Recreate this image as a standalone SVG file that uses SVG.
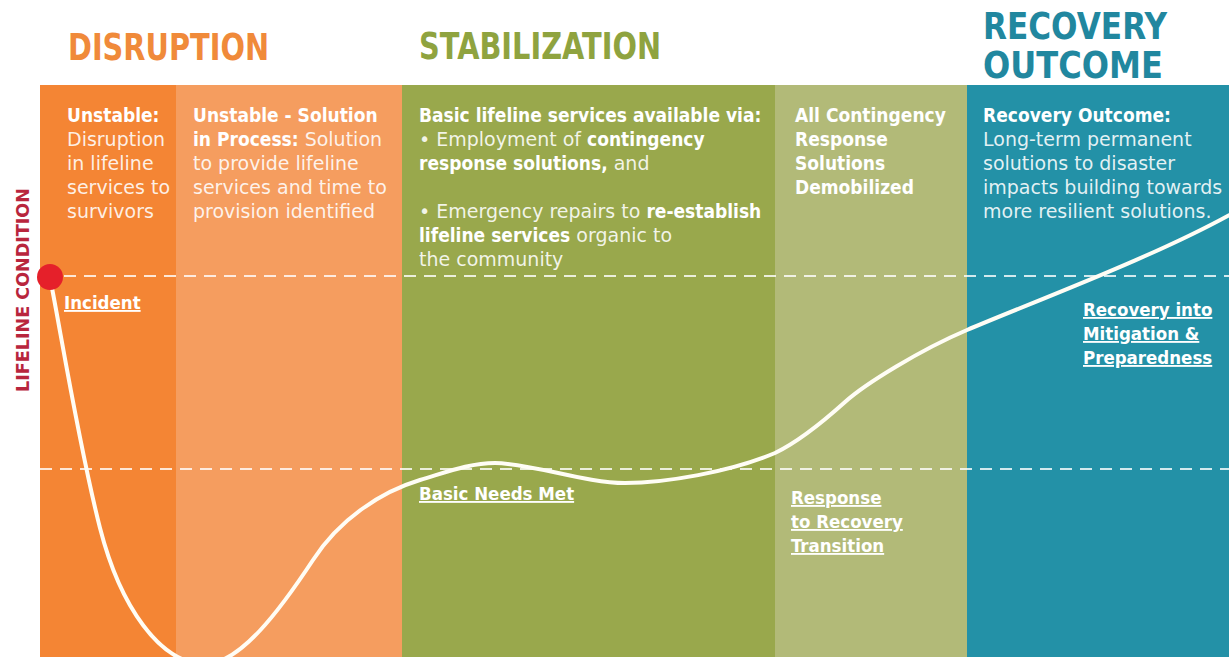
<svg xmlns="http://www.w3.org/2000/svg" width="1229" height="657" viewBox="0 0 1229 657">
<style>
.hdr{font-family:"DejaVu Sans","Liberation Sans",sans-serif;font-weight:bold;font-size:37px}
.body{font-family:"DejaVu Sans","Liberation Sans",sans-serif;font-size:19px;fill:#ffffff;fill-opacity:0.88}
.b{font-family:"DejaVu Sans Condensed","DejaVu Sans","Liberation Sans",sans-serif;font-weight:bold;fill:#ffffff;fill-opacity:1}
.lbl{font-family:"DejaVu Sans Condensed","DejaVu Sans","Liberation Sans",sans-serif;font-weight:bold;font-size:18.5px;fill:#ffffff;text-decoration:underline}
.dash{stroke:#ffffff;stroke-opacity:0.8;stroke-width:2;stroke-dasharray:12 8;fill:none}
</style>
<rect width="1229" height="657" fill="#ffffff"/>
<g id="headers">
<text class="hdr" x="68" y="60" fill="#F08A3A" textLength="201" lengthAdjust="spacingAndGlyphs">DISRUPTION</text>
<text class="hdr" x="419" y="59" fill="#8FA33F" textLength="242" lengthAdjust="spacingAndGlyphs">STABILIZATION</text>
<text class="hdr" x="983" y="39" fill="#21879F" font-size="35" textLength="184" lengthAdjust="spacingAndGlyphs">RECOVERY</text>
<text class="hdr" x="983" y="78" fill="#21879F" font-size="35" textLength="180" lengthAdjust="spacingAndGlyphs">OUTCOME</text>
</g>
<g id="axis-label">
<text transform="translate(29,290) rotate(-90)" text-anchor="middle" font-family="DejaVu Sans,Liberation Sans,sans-serif" font-weight="bold" font-size="17" fill="#B8253D" textLength="204" lengthAdjust="spacingAndGlyphs">LIFELINE CONDITION</text>
</g>
<g id="col-unstable">
<rect x="40" y="85" width="136" height="572" fill="#F48534"/>
<text class="body" x="67" y="122"><tspan class="b">Unstable:</tspan></text>
<text class="body" x="67" y="146">Disruption</text>
<text class="body" x="67" y="170">in lifeline</text>
<text class="body" x="67" y="194">services to</text>
<text class="body" x="67" y="218">survivors</text>
</g>
<g id="col-unstable-solution">
<rect x="176" y="85" width="226" height="572" fill="#F59D5F"/>
<text class="body" x="193" y="122"><tspan class="b">Unstable - Solution</tspan></text>
<text class="body" x="193" y="146"><tspan class="b">in Process:</tspan> Solution</text>
<text class="body" x="193" y="170">to provide lifeline</text>
<text class="body" x="193" y="194">services and time to</text>
<text class="body" x="193" y="218">provision identified</text>
</g>
<g id="col-basic-services">
<rect x="402" y="85" width="373" height="572" fill="#99A84C"/>
<text class="body" x="419" y="122"><tspan class="b">Basic lifeline services available via:</tspan></text>
<text class="body" x="419" y="146">• Employment of <tspan class="b">contingency</tspan></text>
<text class="body" x="419" y="170"><tspan class="b">response solutions,</tspan> and</text>
<text class="body" x="419" y="218">• Emergency repairs to <tspan class="b">re-establish</tspan></text>
<text class="body" x="419" y="242"><tspan class="b">lifeline services</tspan> organic to</text>
<text class="body" x="419" y="266">the community</text>
</g>
<g id="col-demobilized">
<rect x="775" y="85" width="192" height="572" fill="#B2BA78"/>
<text class="body" x="795" y="122"><tspan class="b">All Contingency</tspan></text>
<text class="body" x="795" y="146"><tspan class="b">Response</tspan></text>
<text class="body" x="795" y="170"><tspan class="b">Solutions</tspan></text>
<text class="body" x="795" y="194"><tspan class="b">Demobilized</tspan></text>
</g>
<g id="col-recovery">
<rect x="967" y="85" width="262" height="572" fill="#2391A7"/>
<text class="body" x="983" y="122"><tspan class="b">Recovery Outcome:</tspan></text>
<text class="body" x="983" y="146">Long-term permanent</text>
<text class="body" x="983" y="170">solutions to disaster</text>
<text class="body" x="983" y="194">impacts building towards</text>
<text class="body" x="983" y="218">more resilient solutions.</text>
</g>
<g id="connectors">
<line class="dash" x1="64" y1="276" x2="1229" y2="276"/>
<line class="dash" x1="40" y1="469" x2="1229" y2="469"/>
<path d="M52,288 C62,340 80,450 100,528 C120,606 160,664 205,664 C240,664 280,610 313,560 C339,520 380,492 420,480 C447,472 470,463 495,463 C530,463 585,483 625,483 C665,483 730,472 775,453 C800,441 825,420 845,402 C865,384 920,350 967,330 C1030,303 1160,255 1240,209" fill="none" stroke="#FFFDF5" stroke-width="4" stroke-linecap="round"/>
</g>
<g id="incident">
<circle cx="50" cy="277" r="13" fill="#E5202A"/>
<text class="lbl" x="64" y="309">Incident</text>
</g>
<g id="basic-needs-met">
<text class="lbl" x="419" y="500">Basic Needs Met</text>
</g>
<g id="transition">
<text class="lbl" x="791" y="504">Response</text>
<text class="lbl" x="791" y="528">to Recovery</text>
<text class="lbl" x="791" y="552">Transition</text>
</g>
<g id="mitigation">
<text class="lbl" x="1083" y="316">Recovery into</text>
<text class="lbl" x="1083" y="340">Mitigation &amp;</text>
<text class="lbl" x="1083" y="364">Preparedness</text>
</g>
</svg>
